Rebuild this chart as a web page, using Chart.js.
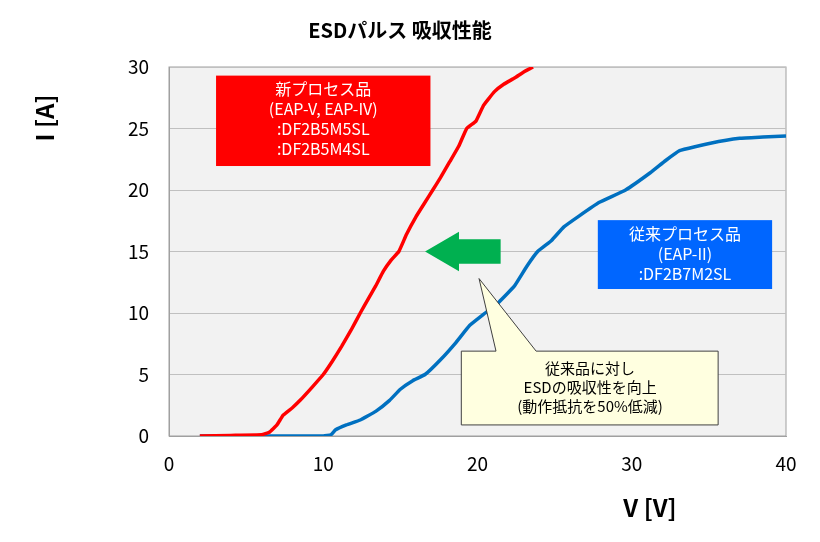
<!DOCTYPE html>
<html><head><meta charset="utf-8">
<script src="https://cdn.jsdelivr.net/npm/chart.js@4"></script>
<style>body{margin:0;background:#fff}#w{width:820px;height:542px}</style>
</head><body><div id="w"><canvas id="c"></canvas></div>
<script>
const newV = [2,4,6,6.5,7,7.4,8,8.5,9.3,10,10.6,11.2,11.8,12.4,12.9,13.4,13.9,14.4,14.9,15.4,16,16.6,17.1,17.6,18.2,18.8,19.3,19.9,20.4,21.1,21.7,22.4,23,23.6];
const newI = [0,0.05,0.1,0.3,0.9,1.7,2.3,2.9,4.0,5.0,6.1,7.3,8.6,10,11.1,12.2,13.4,14.3,15,16.4,17.8,19,20,21,22.3,23.6,25,25.6,26.9,28,28.6,29.1,29.6,30];
const oldV = [2,6,10,10.5,10.8,11.5,12.4,13.4,14.3,15,15.8,16.6,17.6,18.6,19.5,20.5,21.4,22.4,23.2,23.9,24.8,25.6,26.6,27.9,29.6,31.2,32.2,33.1,35.1,37,38.5,40];
const oldI = [0,0,0,0.1,0.5,0.9,1.3,2,2.9,3.8,4.5,5.0,6.2,7.6,9.0,10,10.9,12.2,13.8,15,15.9,17,17.9,19,20,21.4,22.4,23.2,23.8,24.2,24.3,24.4];
const xTicks=[0,10,20,30,40], yTicks=[0,5,10,15,20,25,30];
const F='"Noto Sans CJK JP","Noto Sans",sans-serif';
const deco={id:'deco',afterDatasetsDraw(ch){
 const c=ch.ctx,x=ch.scales.x,y=ch.scales.y,X=v=>x.getPixelForValue(v),Y=v=>y.getPixelForValue(v);
 c.save();
 c.fillStyle='#00b050';c.beginPath();
 c.moveTo(X(21.5),Y(16.0));c.lineTo(X(18.8),Y(16.0));c.lineTo(X(18.8),Y(16.6));c.lineTo(X(16.6),Y(15.0));
 c.lineTo(X(18.8),Y(13.4));c.lineTo(X(18.8),Y(14.0));c.lineTo(X(21.5),Y(14.0));c.closePath();c.fill();
 c.fillStyle='#ff0000';c.fillRect(X(3.05),Y(29.3),X(16.95)-X(3.05),Y(21.95)-Y(29.3));
 c.fillStyle='#fff';c.font='16px '+F;c.textAlign='center';c.textBaseline='middle';
 ['新プロセス品','(EAP-V, EAP-IV)',':DF2B5M5SL',':DF2B5M4SL'].forEach((t,i)=>c.fillText(t,X(10),Y(28.2)+i*20));
 c.fillStyle='#0066ff';c.fillRect(X(27.8),Y(17.55),X(39.1)-X(27.8),Y(11.95)-Y(17.55));
 c.fillStyle='#fff';
 ['従来プロセス品','(EAP-II)',':DF2B7M2SL'].forEach((t,i)=>c.fillText(t,X(33.45),Y(16.4)+i*20));
 c.fillStyle='#ffffe0';c.strokeStyle='#404040';c.lineWidth=1;c.beginPath();
 c.moveTo(X(18.95),Y(6.9));c.lineTo(X(21.2),Y(6.9));c.lineTo(X(20.1),Y(12.8));c.lineTo(X(23.8),Y(6.9));
 c.lineTo(X(35.6),Y(6.9));c.lineTo(X(35.6),Y(0.9));c.lineTo(X(18.95),Y(0.9));c.closePath();c.fill();c.stroke();
 c.fillStyle='#000';c.font='15px '+F;
 ['従来品に対し','ESDの吸収性を向上','(動作抵抗を50%低減)'].forEach((t,i)=>c.fillText(t,X(27.3),Y(5.5)+i*19));
 c.font='bold 20px '+F;c.fillText('ESDパルス 吸収性能',400,30);
 c.font='bold 24px '+F;c.fillText('V [V]',650,508);
 c.translate(45,118);c.rotate(-Math.PI/2);c.fillText('I [A]',0,0);
 c.restore();
}};
new Chart(document.getElementById('c'),{type:'scatter',
 data:{datasets:[
  {data:newV.map((v,i)=>({x:v,y:newI[i]})),showLine:true,borderColor:'#ff0000',borderWidth:3.5,pointRadius:0,tension:0.1},
  {data:oldV.map((v,i)=>({x:v,y:oldI[i]})),showLine:true,borderColor:'#0070c0',borderWidth:3.5,pointRadius:0,tension:0.1}]},
 options:{responsive:true,maintainAspectRatio:false,animation:false,
  layout:{padding:{top:67,right:34,left:0,bottom:0}},
  plugins:{legend:{display:false},tooltip:{enabled:false}},
  scales:{
   x:{min:0,max:40,afterFit:a=>{a.height=106},afterBuildTicks:a=>{a.ticks=xTicks.map(v=>({value:v}))},
      grid:{display:false,drawTicks:false},border:{color:'#a0a0a0'},ticks:{font:{size:19,family:F},color:'#000',padding:16}},
   y:{min:0,max:30,afterFit:a=>{a.width=169},afterBuildTicks:a=>{a.ticks=yTicks.map(v=>({value:v}))},
      grid:{color:'#c0c0c0',drawTicks:false},border:{color:'#a0a0a0'},ticks:{font:{size:19,family:F},color:'#000',padding:20}}
  }},
 plugins:[{id:'bg',beforeDraw(ch){const a=ch.chartArea,c=ch.ctx;c.save();c.fillStyle='#f2f2f2';c.fillRect(a.left,a.top,a.right-a.left,a.bottom-a.top);c.strokeStyle='#a0a0a0';c.strokeRect(a.left,a.top,a.right-a.left,a.bottom-a.top);c.restore();}},deco]
});
</script></body></html>
